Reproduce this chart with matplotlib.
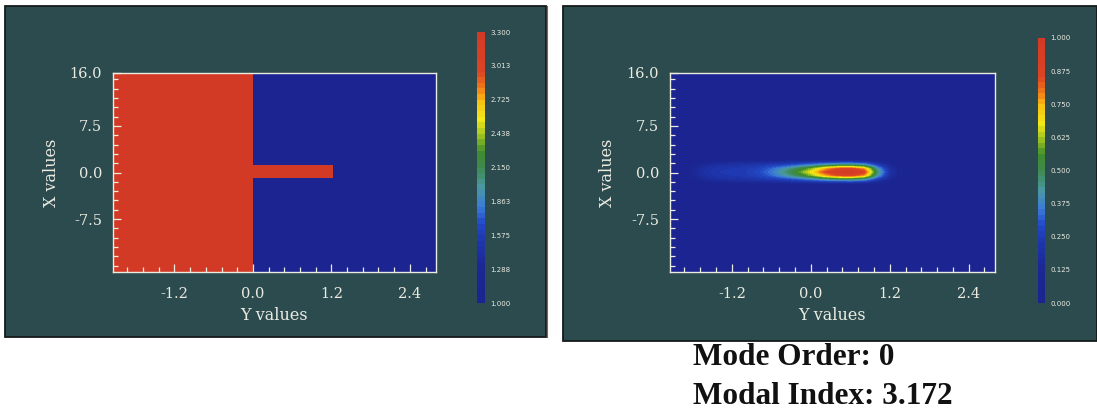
import numpy as np
import matplotlib
matplotlib.use("Agg")
import matplotlib.pyplot as plt
from matplotlib.colors import LinearSegmentedColormap
from matplotlib.patches import Rectangle
from matplotlib.lines import Line2D
from matplotlib.ticker import FixedLocator, MultipleLocator

# ---------------- data ----------------
# waveguide cross-section (refractive index)
substrate_index = 3.3
cladding_index = 1.0
substrate_edge_y = 0.0            # substrate occupies Y < 0
ridge_y = (0.0, 1.22)             # ridge extent along Y
ridge_x = (-0.9, 1.2)             # ridge extent along X

# mode intensity sampled on a coarse grid (rows: X from +2.4 to -2.4, cols: Y from -2.0 to 2.0)
field_y = [-2.0, -1.8, -1.6, -1.4, -1.2, -1.0, -0.8, -0.6, -0.4, -0.2, 0.0,
           0.2, 0.4, 0.6, 0.8, 1.0, 1.2, 1.4, 1.6, 1.8, 2.0]
field_x = [2.4, 1.8, 1.2, 0.6, 0.0, -0.6, -1.2, -1.8, -2.4]
field = [
    [0.00, 0.00, 0.00, 0.00, 0.00, 0.00, 0.00, 0.00, 0.00, 0.00, 0.00, 0.00, 0.00, 0.00, 0.00, 0.00, 0.00, 0.00, 0.00, 0.00, 0.00],
    [0.00, 0.05, 0.08, 0.10, 0.11, 0.12, 0.12, 0.12, 0.13, 0.14, 0.15, 0.16, 0.17, 0.17, 0.15, 0.10, 0.05, 0.02, 0.00, 0.00, 0.00],
    [0.00, 0.10, 0.15, 0.18, 0.19, 0.20, 0.22, 0.24, 0.27, 0.31, 0.36, 0.42, 0.46, 0.47, 0.42, 0.25, 0.12, 0.05, 0.01, 0.00, 0.00],
    [0.00, 0.12, 0.19, 0.22, 0.23, 0.24, 0.27, 0.33, 0.41, 0.50, 0.60, 0.74, 0.84, 0.86, 0.76, 0.42, 0.17, 0.07, 0.02, 0.00, 0.00],
    [0.00, 0.13, 0.20, 0.23, 0.24, 0.25, 0.29, 0.36, 0.46, 0.57, 0.69, 0.86, 0.97, 1.00, 0.90, 0.48, 0.19, 0.08, 0.02, 0.00, 0.00],
    [0.00, 0.12, 0.19, 0.22, 0.23, 0.24, 0.27, 0.33, 0.41, 0.50, 0.60, 0.74, 0.84, 0.86, 0.76, 0.42, 0.17, 0.07, 0.02, 0.00, 0.00],
    [0.00, 0.10, 0.15, 0.18, 0.19, 0.20, 0.22, 0.24, 0.27, 0.31, 0.36, 0.42, 0.46, 0.47, 0.42, 0.25, 0.12, 0.05, 0.01, 0.00, 0.00],
    [0.00, 0.05, 0.08, 0.10, 0.11, 0.12, 0.12, 0.12, 0.13, 0.14, 0.15, 0.16, 0.17, 0.17, 0.15, 0.10, 0.05, 0.02, 0.00, 0.00, 0.00],
    [0.00, 0.00, 0.00, 0.00, 0.00, 0.00, 0.00, 0.00, 0.00, 0.00, 0.00, 0.00, 0.00, 0.00, 0.00, 0.00, 0.00, 0.00, 0.00, 0.00, 0.00],
]

y_range = (-2.14, 2.80)
x_range = (-16.0, 16.0)
y_ticks = [-1.2, 0.0, 1.2, 2.4]
y_tick_labels = ["-1.2", "0.0", "1.2", "2.4"]
x_ticks = [16.0, 7.5, 0.0, -7.5]
x_tick_labels = ["16.0", "7.5", "0.0", "-7.5"]

index_cb_ticks = [1.0, 1.2875, 1.575, 1.8625, 2.15, 2.4375, 2.725, 3.0125, 3.3]
index_cb_labels = ["1.000", "1.288", "1.575", "1.863", "2.150", "2.438", "2.725", "3.013", "3.300"]
field_cb_ticks = [0.0, 0.125, 0.25, 0.375, 0.5, 0.625, 0.75, 0.875, 1.0]
field_cb_labels = ["0.000", "0.125", "0.250", "0.375", "0.500", "0.625", "0.750", "0.875", "1.000"]

mode_order = 0
modal_index = 3.172

# ---------------- style ----------------
W, H = 1097, 417
BG = "#2b4b4e"
FG = "#ecebe2"
SERIF = ["DejaVu Serif"]

cmap = LinearSegmentedColormap.from_list("idl_rainbow", [
    (0.00, "#1b2490"),
    (0.12, "#1b2794"),
    (0.22, "#1e36ac"),
    (0.29, "#2248c6"),
    (0.35, "#3a7ad8"),
    (0.42, "#4a98a6"),
    (0.50, "#3f8a4e"),
    (0.56, "#3d8c2c"),
    (0.62, "#9cc222"),
    (0.68, "#f2e818"),
    (0.75, "#f8c012"),
    (0.80, "#f07a18"),
    (0.86, "#dc4424"),
    (1.00, "#d23a26"),
], N=48)


def fig_rect(x0, y0, x1, y1):
    return [x0 / W, 1 - y1 / H, (x1 - x0) / W, (y1 - y0) / H]


fig = plt.figure(figsize=(W / 100, H / 100), dpi=100)
fig.patch.set_facecolor("white")

# dark display panels
for (x0, y0, x1, y1) in [(5, 6, 546, 337), (563, 6, 1097, 341)]:
    fig.add_artist(Rectangle((x0 / W, 1 - y1 / H), (x1 - x0) / W, (y1 - y0) / H,
                             transform=fig.transFigure, facecolor=BG,
                             edgecolor="#151a1a", linewidth=1.3, zorder=-5))
fig.add_artist(Line2D([546.5 / W, 546.5 / W], [1 - 337 / H, 1 - 6 / H],
                      transform=fig.transFigure, color="#c04848", linewidth=0.8, zorder=-4))


def style_axes(ax):
    ax.set_xlim(*y_range)
    ax.set_ylim(*x_range)
    ax.xaxis.set_major_locator(FixedLocator(y_ticks))
    ax.set_xticklabels(y_tick_labels)
    ax.yaxis.set_major_locator(FixedLocator(x_ticks))
    ax.set_yticklabels(x_tick_labels)
    ax.xaxis.set_minor_locator(MultipleLocator(0.24))
    ax.yaxis.set_minor_locator(MultipleLocator(1.5))
    ax.tick_params(which="both", direction="in", color=FG, top=False, right=False, width=0.9)
    ax.tick_params(which="major", length=5.5)
    ax.tick_params(which="minor", length=3.5)
    ax.tick_params(axis="x", which="major", pad=11)
    ax.tick_params(axis="y", which="major", pad=8)
    for lab in ax.get_xticklabels() + ax.get_yticklabels():
        lab.set_color(FG)
        lab.set_fontsize(10.5)
        lab.set_family(SERIF)
    for sp in ax.spines.values():
        sp.set_color(FG)
        sp.set_linewidth(1.0)
    ax.set_xlabel("Y values", color=FG, fontsize=11.5, family=SERIF)
    ax.set_ylabel("X values", color=FG, fontsize=11.5, family=SERIF)
    ax.xaxis.set_label_coords(0.5, -0.175)
    ax.yaxis.set_label_coords(-0.165, 0.5)


def style_cbar(cb, labels):
    cb.outline.set_visible(False)
    cb.ax.tick_params(length=0, pad=4, labelsize=5, colors=FG)
    cb.ax.set_yticklabels(labels)


# ---- left: refractive index ----
ax1 = fig.add_axes(fig_rect(113, 73, 436, 272))
y_edges = [y_range[0], substrate_edge_y, ridge_y[1], y_range[1]]
x_edges = [x_range[0], ridge_x[0], ridge_x[1], x_range[1]]
index_map = np.array([
    [substrate_index, cladding_index, cladding_index],
    [substrate_index, substrate_index, cladding_index],
    [substrate_index, cladding_index, cladding_index],
])
m1 = ax1.pcolormesh(y_edges, x_edges, index_map, cmap=cmap,
                    vmin=index_cb_ticks[0], vmax=index_cb_ticks[-1])
style_axes(ax1)
cax1 = fig.add_axes(fig_rect(477, 32, 485, 303))
cb1 = fig.colorbar(m1, cax=cax1, ticks=index_cb_ticks)
style_cbar(cb1, index_cb_labels)

# ---- right: mode intensity ----
ax2 = fig.add_axes(fig_rect(670, 73, 995, 272))
ax2.set_facecolor(cmap(0.0))
dy = field_y[1] - field_y[0]
dx = field_x[0] - field_x[1]
m2 = ax2.imshow(np.array(field), cmap=cmap, vmin=0.0, vmax=1.0,
                extent=[field_y[0] - dy / 2, field_y[-1] + dy / 2,
                        field_x[-1] - dx / 2, field_x[0] + dx / 2],
                aspect="auto", interpolation="bilinear", interpolation_stage="data",
                origin="upper")
style_axes(ax2)
cax2 = fig.add_axes(fig_rect(1038, 38, 1045, 303))
cb2 = fig.colorbar(m2, cax=cax2, ticks=field_cb_ticks)
style_cbar(cb2, field_cb_labels)

# mode summary
fig.text(693 / W, 1 - 365 / H, f"Mode Order: {mode_order}", family=["Liberation Serif"],
         weight="bold", fontsize=22.5, color="#111111", va="baseline", ha="left")
fig.text(693 / W, 1 - 404 / H, f"Modal Index: {modal_index:.3f}", family=["Liberation Serif"],
         weight="bold", fontsize=22.5, color="#111111", va="baseline", ha="left")

fig.savefig("out.png", dpi=100, facecolor=fig.get_facecolor())
